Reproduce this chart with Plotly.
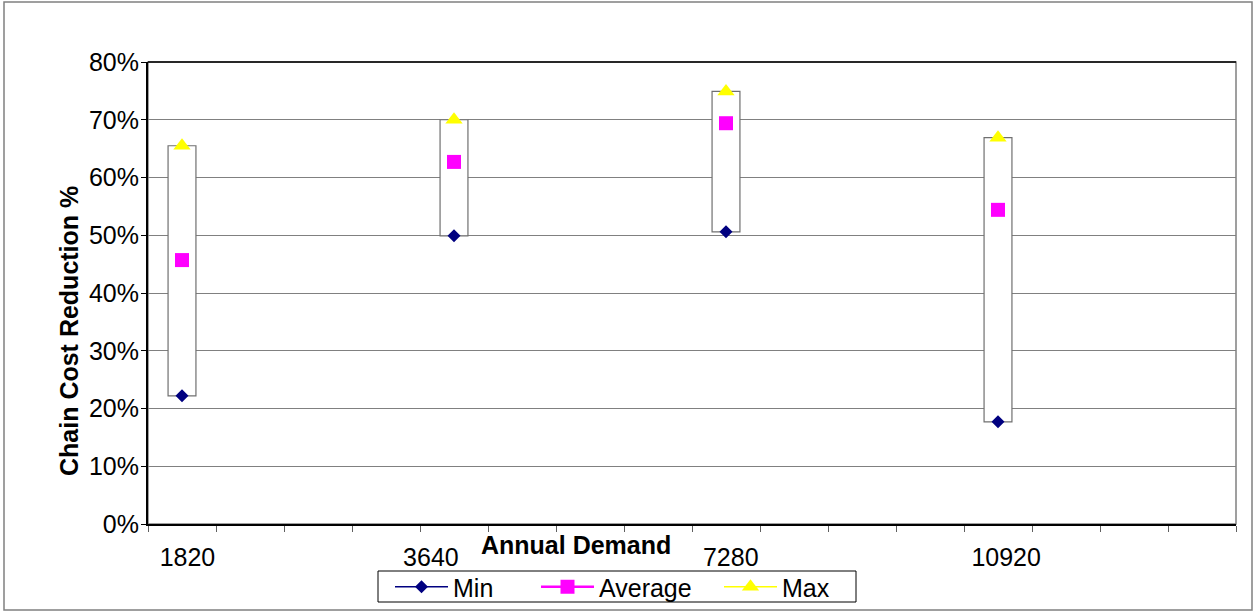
import plotly.graph_objects as go

# ---- data ----
n_slots = 16                      # category slots on the x axis
slot_index = [0, 4, 8, 12]        # slots that hold data
demand_labels = ["1820", "3640", "7280", "10920"]
min_vals = [0.222, 0.499, 0.506, 0.177]
avg_vals = [0.457, 0.627, 0.694, 0.544]
max_vals = [0.655, 0.700, 0.749, 0.669]
y_ticks = [0, 0.1, 0.2, 0.3, 0.4, 0.5, 0.6, 0.7, 0.8]

FONT = "Arial, Liberation Sans, sans-serif"


def spread(vals):
    full = [None] * n_slots
    for i, v in zip(slot_index, vals):
        full[i] = v
    return full


xs = list(range(n_slots))
fig = go.Figure()

# up-down bars (min to max)
fig.add_trace(go.Bar(
    x=slot_index,
    base=min_vals,
    y=[hi - lo for hi, lo in zip(max_vals, min_vals)],
    width=0.41,
    marker=dict(color="white", line=dict(color="#707070", width=1.2)),
    showlegend=False, hoverinfo="skip",
))

series = [
    ("Min", min_vals, "#000080", 1.3, "diamond", 10, "legend"),
    ("Average", avg_vals, "#FF00FF", 2.5, "square", 14, "legend2"),
    ("Max", max_vals, "#FFFF00", 1.5, "triangle-up", 15, "legend3"),
]
for name, vals, color, lw, sym, size, lg in series:
    fig.add_trace(go.Scatter(
        x=xs, y=spread(vals), name=name, mode="lines+markers",
        line=dict(color=color, width=lw),
        marker=dict(symbol=sym, size=size, color=color),
        showlegend=False,
    ))
# legend entries (no visible data of their own)
for name, vals, color, lw, sym, size, lg in series:
    fig.add_trace(go.Scatter(
        x=[None], y=[None], name=name, mode="lines+markers",
        line=dict(color=color, width=lw),
        marker=dict(symbol=sym, size=size, color=color),
        showlegend=True, legend=lg,
    ))

label_nudge = [0.08, -0.34, 0.07, 0.12]
fig.update_xaxes(
    range=[-0.5, n_slots - 0.5],
    tickmode="array",
    tickvals=[i + d for i, d in zip(slot_index, label_nudge)],
    ticktext=demand_labels,
    ticks="",
    showgrid=False,
    zeroline=False,
    showline=True, linecolor="black", linewidth=2,
    tickfont=dict(family=FONT, size=25, color="black"),
    minor=dict(tickmode="array",
               tickvals=[i - 0.5 for i in range(n_slots + 1)],
               ticks="outside", ticklen=6, tickwidth=1.2,
               tickcolor="#606060", showgrid=False),
    ticklabelstandoff=10,
    automargin=False,
)
fig.update_yaxes(
    range=[0, 0.8],
    tickmode="array", tickvals=y_ticks, tickformat=".0%",
    ticks="outside", ticklen=5, tickcolor="black", tickwidth=1,
    showgrid=True, gridcolor="#808080", gridwidth=1.2,
    zeroline=False,
    showline=True, linecolor="black", linewidth=2,
    tickfont=dict(family=FONT, size=25, color="black"),
    ticklabelstandoff=-3,
    automargin=False,
)

L, R, T, B = 148, 22, 62, 87
W, H = 1258, 611
pw, ph = W - L - R, H - T - B


def px(xp):
    return (xp - L) / pw


def py(yp):
    return (H - B - yp) / ph


shapes = [
    # plot-area frame (gray), top edge black
    dict(type="rect", xref="paper", yref="paper", x0=0, x1=1, y0=0, y1=1,
         line=dict(color="#808080", width=1.5), layer="below"),
    dict(type="line", xref="paper", yref="paper", x0=0, x1=1, y0=1, y1=1,
         line=dict(color="black", width=1.5), layer="above"),
    # outer chart border
    dict(type="rect", xref="paper", yref="paper",
         x0=px(4), x1=px(1252), y0=py(610), y1=py(2),
         line=dict(color="#808080", width=1.5), layer="below"),
    # legend box
    dict(type="rect", xref="paper", yref="paper",
         x0=px(378), x1=px(856), y0=py(602), y1=py(571),
         line=dict(color="black", width=1), fillcolor="white",
         layer="above"),
]

annotations = [
    dict(text="<b>Chain Cost Reduction %</b>", textangle=-90,
         xref="paper", yref="paper", x=px(69), y=py(331),
         xanchor="center", yanchor="middle", showarrow=False,
         font=dict(family=FONT, size=25, color="black")),
    dict(text="<b>Annual Demand</b>",
         xref="paper", yref="paper", x=px(576), y=py(545),
         xanchor="center", yanchor="middle", showarrow=False,
         font=dict(family=FONT, size=25, color="black")),
]


def legend_at(xpix):
    return dict(orientation="h", x=px(xpix), xanchor="left",
                y=py(587), yanchor="middle",
                bgcolor="rgba(0,0,0,0)", borderwidth=0,
                font=dict(family=FONT, size=25, color="black"),
                itemwidth=53)


fig.update_layout(
    width=W, height=H,
    margin=dict(l=L, r=R, t=T, b=B, autoexpand=False),
    paper_bgcolor="white", plot_bgcolor="white",
    barmode="overlay",
    shapes=shapes, annotations=annotations,
    showlegend=True,
    legend=legend_at(390),
    legend2=legend_at(536),
    legend3=legend_at(719),
    font=dict(family=FONT),
)

fig.write_html("out.html", config={"displayModeBar": False},
               post_script="document.body.style.margin='0';")
